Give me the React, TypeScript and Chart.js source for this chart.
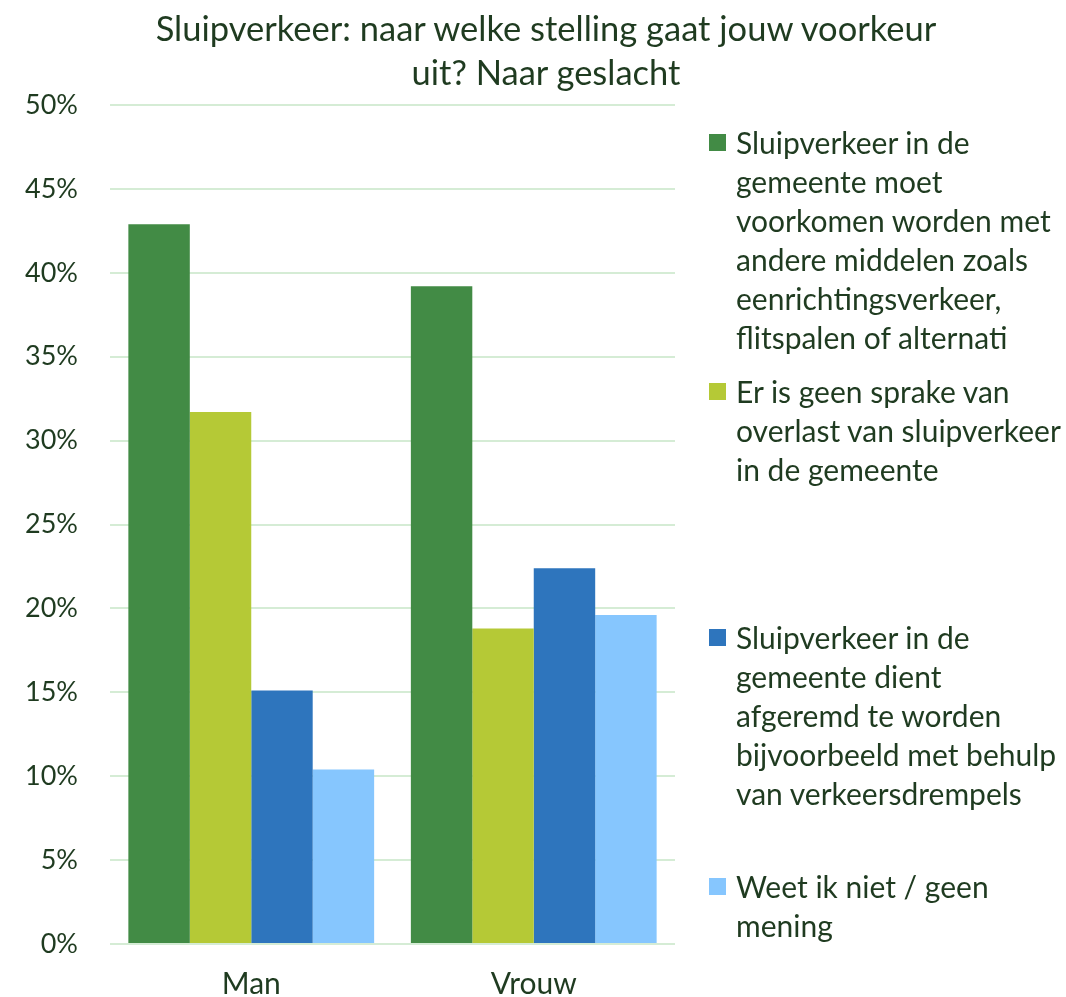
import React, { useEffect, useRef } from "react";
import { Chart, registerables } from "chart.js";

Chart.register(...registerables);

const titleLines = ["Sluipverkeer: naar welke stelling gaat jouw voorkeur", "uit? Naar geslacht"];
const categories = ["Man", "Vrouw"];
const seriesNames = [
  "Sluipverkeer in de gemeente moet voorkomen worden met andere middelen zoals eenrichtingsverkeer, flitspalen of alternati",
  "Er is geen sprake van overlast van sluipverkeer in de gemeente",
  "Sluipverkeer in de gemeente dient afgeremd te worden bijvoorbeeld met behulp van verkeersdrempels",
  "Weet ik niet / geen mening",
];
const legendLines = [
  ["Sluipverkeer in de", "gemeente moet", "voorkomen worden met", "andere middelen zoals", "eenrichtingsverkeer,", "flitspalen of alternati"],
  ["Er is geen sprake van", "overlast van sluipverkeer", "in de gemeente"],
  ["Sluipverkeer in de", "gemeente dient", "afgeremd te worden", "bijvoorbeeld met behulp", "van verkeersdrempels"],
  ["Weet ik niet / geen", "mening"],
];
const voorkomen = [42.9, 39.2];
const geenOverlast = [31.7, 18.8];
const afgeremd = [15.1, 22.4];
const weetNiet = [10.4, 19.6];
const colors = ["#428b45", "#b5c936", "#2e75bd", "#86c6fe"];
const legendTops = [123, 372, 618, 867];
const textColor = "#1f3b20";
const fontFamily = "Lato, 'Noto Sans', sans-serif";

export default function App() {
  const ref = useRef<HTMLCanvasElement>(null);
  useEffect(() => {
    const seriesValues = [voorkomen, geenOverlast, afgeremd, weetNiet];
    const chart = new Chart(ref.current!, {
      type: "bar",
      data: {
        labels: categories,
        datasets: seriesValues.map((v, i) => ({
          label: seriesNames[i],
          data: v,
          backgroundColor: colors[i],
          borderWidth: 0,
          barPercentage: 1,
          categoryPercentage: 0.87,
        })),
      },
      options: {
        animation: false,
        responsive: false,
        maintainAspectRatio: false,
        layout: { padding: { top: 105, right: 391, bottom: 0, left: 0 } },
        plugins: { legend: { display: false }, title: { display: false }, tooltip: { enabled: false } },
        scales: {
          x: {
            grid: { display: false },
            border: { display: false },
            ticks: { color: textColor, font: { family: fontFamily, size: 30, lineHeight: 1 }, padding: 17 },
            afterFit: (s: any) => { s.height = 53; },
          },
          y: {
            min: 0,
            max: 50,
            ticks: {
              stepSize: 5,
              color: textColor,
              font: { family: fontFamily, size: 27 },
              padding: 32,
              callback: (v: any) => v + "%",
            },
            grid: { color: "#d5ecd5", lineWidth: 2, drawTicks: false },
            border: { display: false },
            afterFit: (s: any) => { s.width = 110; },
          },
        },
      },
    });
    return () => chart.destroy();
  }, []);

  return (
    <div style={{ position: "fixed", left: 0, top: 0, width: 1066, height: 997, background: "#fff", fontFamily, color: textColor }}>
      <canvas ref={ref} width={1066} height={997} style={{ position: "absolute", left: 0, top: 0 }} />
      <div style={{ position: "absolute", left: 46, width: 1000, top: 6, textAlign: "center", fontSize: 34.5, lineHeight: "44px" }}>
        {titleLines.map((l, i) => <div key={i}>{l}</div>)}
      </div>
      {legendLines.map((lines, i) => (
        <div key={i} style={{ position: "absolute", left: 709, top: legendTops[i], fontSize: 30, lineHeight: "39px" }}>
          <div style={{ position: "absolute", left: 0, top: 11, width: 17, height: 17, background: colors[i] }} />
          <div style={{ marginLeft: 27, whiteSpace: "pre" }}>
            {lines.map((l, j) => <div key={j}>{l}</div>)}
          </div>
        </div>
      ))}
    </div>
  );
}
